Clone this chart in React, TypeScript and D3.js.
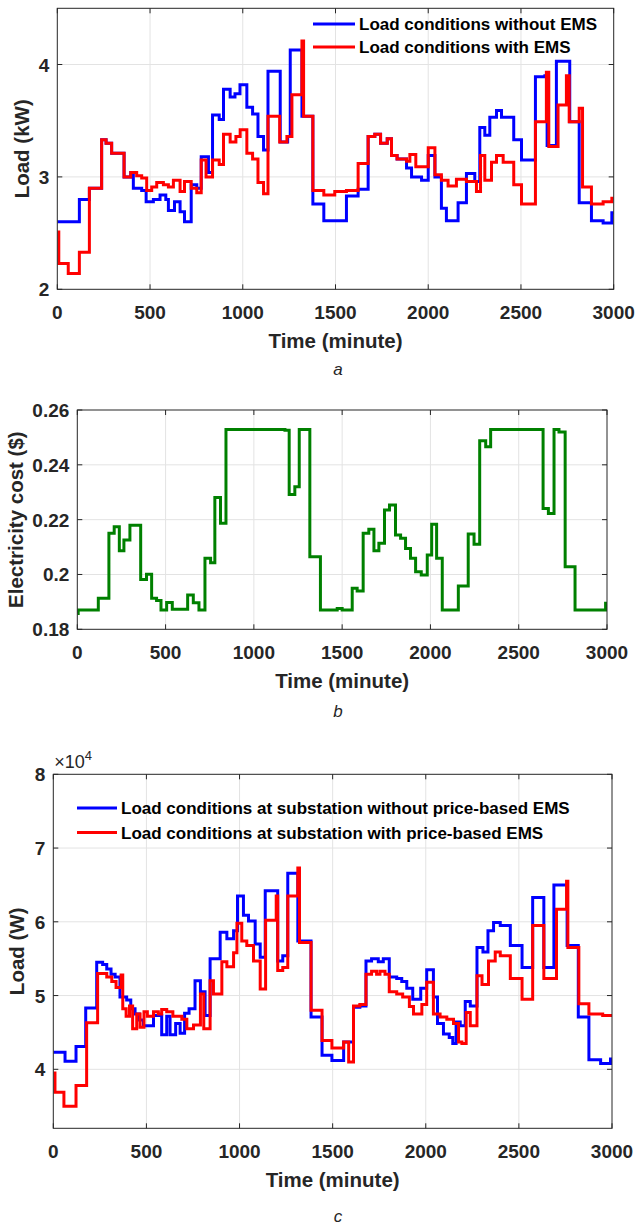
import * as d3 from 'd3';
import React from 'react';

// time axis ticks, shared by all three panels
const timeTicks = [0, 500, 1000, 1500, 2000, 2500, 3000];

// (a) household load, kW
const loadNoEmsT = [0, 119, 173, 239, 263, 293, 360, 396, 410, 455, 479, 518, 554, 585, 599, 632, 662, 686, 722, 752, 776, 815, 837, 873, 896, 932, 958, 985, 1022, 1053, 1082, 1112, 1136, 1202, 1242, 1256, 1319, 1378, 1437, 1559, 1622, 1676, 1712, 1743, 1779, 1802, 1832, 1883, 1910, 1964, 2000, 2036, 2071, 2098, 2161, 2206, 2251, 2278, 2305, 2332, 2368, 2395, 2461, 2503, 2578, 2629, 2641, 2691, 2763, 2814, 2880, 2943, 2990];
const loadNoEmsV = [2.60, 2.80, 2.90, 3.33, 3.30, 3.21, 3.00, 3.04, 2.90, 2.88, 2.78, 2.80, 2.84, 2.80, 2.70, 2.78, 2.69, 2.60, 2.93, 2.90, 3.18, 3.04, 3.55, 3.51, 3.78, 3.71, 3.74, 3.82, 3.62, 3.56, 3.36, 3.24, 3.94, 3.31, 3.36, 4.13, 3.54, 2.76, 2.61, 2.83, 2.89, 3.36, 3.38, 3.30, 3.34, 3.19, 3.16, 3.08, 3.00, 2.97, 3.19, 3.00, 2.72, 2.61, 2.77, 3.03, 2.96, 3.44, 3.37, 3.53, 3.59, 3.53, 3.33, 3.15, 3.89, 3.90, 3.28, 4.03, 3.49, 2.77, 2.61, 2.59, 2.68];
const loadEmsT = [0, 8, 59, 119, 173, 239, 263, 293, 360, 396, 428, 455, 482, 509, 536, 572, 599, 626, 662, 686, 722, 752, 776, 802, 837, 873, 896, 932, 963, 986, 1022, 1053, 1082, 1112, 1136, 1199, 1238, 1265, 1319, 1328, 1378, 1437, 1496, 1559, 1622, 1676, 1712, 1743, 1779, 1802, 1832, 1883, 1901, 1933, 2000, 2036, 2071, 2107, 2152, 2206, 2260, 2282, 2305, 2341, 2368, 2404, 2461, 2503, 2578, 2637, 2650, 2700, 2745, 2760, 2814, 2832, 2880, 2943, 2990];
const loadEmsV = [2.51, 2.23, 2.14, 2.33, 2.90, 3.33, 3.30, 3.21, 3.00, 3.04, 3.01, 2.99, 2.88, 2.91, 2.95, 2.93, 2.91, 2.97, 2.87, 2.96, 2.90, 2.86, 3.15, 3.00, 3.15, 3.11, 3.38, 3.31, 3.36, 3.42, 3.21, 3.16, 2.95, 2.85, 3.54, 3.31, 3.36, 3.73, 4.21, 3.54, 2.88, 2.84, 2.87, 2.88, 3.12, 3.36, 3.38, 3.30, 3.34, 3.19, 3.16, 3.14, 3.20, 3.09, 3.26, 3.02, 2.97, 2.92, 2.98, 2.96, 2.87, 3.19, 2.97, 3.13, 3.19, 3.13, 2.93, 2.76, 3.49, 3.93, 3.27, 3.64, 3.90, 3.49, 3.61, 2.91, 2.76, 2.78, 2.81];

// (b) electricity cost, $
const costT = [0, 5, 119, 179, 209, 238, 264, 298, 359, 392, 421, 449, 474, 506, 538, 625, 657, 689, 723, 755, 779, 811, 842, 1176, 1200, 1232, 1257, 1317, 1377, 1472, 1500, 1557, 1585, 1619, 1651, 1680, 1708, 1740, 1768, 1802, 1831, 1859, 1887, 1916, 1948, 1982, 2007, 2035, 2067, 2158, 2214, 2247, 2279, 2313, 2341, 2638, 2668, 2700, 2728, 2763, 2819, 2992];
const costV = [0.1858, 0.187, 0.1913, 0.215, 0.2174, 0.2087, 0.2126, 0.218, 0.1982, 0.2001, 0.1913, 0.1905, 0.187, 0.1898, 0.1873, 0.1925, 0.1897, 0.187, 0.2059, 0.2043, 0.2281, 0.2187, 0.2529, 0.2526, 0.2292, 0.232, 0.2529, 0.2065, 0.187, 0.1876, 0.187, 0.195, 0.194, 0.215, 0.2165, 0.2087, 0.2114, 0.2235, 0.2253, 0.2144, 0.2132, 0.2095, 0.2059, 0.201, 0.1998, 0.2071, 0.2183, 0.2059, 0.187, 0.1958, 0.2148, 0.211, 0.2488, 0.2466, 0.2529, 0.2241, 0.2222, 0.2529, 0.252, 0.2028, 0.187, 0.1895];

// (c) substation load, x10^4 W
const subNoEmsT = [0, 63, 122, 174, 233, 265, 287, 310, 332, 358, 394, 416, 439, 462, 484, 538, 582, 609, 627, 657, 681, 705, 729, 761, 790, 815, 842, 896, 932, 968, 989, 1021, 1048, 1084, 1111, 1138, 1205, 1232, 1259, 1313, 1384, 1443, 1496, 1559, 1612, 1646, 1679, 1709, 1745, 1772, 1804, 1844, 1871, 1898, 1930, 1973, 2005, 2041, 2063, 2095, 2126, 2145, 2163, 2185, 2212, 2239, 2275, 2307, 2334, 2364, 2400, 2454, 2517, 2574, 2634, 2688, 2759, 2819, 2876, 2939, 2992];
const subNoEmsV = [4.23, 4.11, 4.31, 4.83, 5.45, 5.42, 5.36, 5.29, 5.25, 4.98, 4.94, 4.82, 4.75, 4.67, 4.59, 4.73, 4.47, 4.72, 4.47, 4.62, 4.49, 4.76, 4.82, 5.20, 5.05, 4.73, 5.50, 5.86, 5.77, 5.88, 6.35, 6.09, 6.01, 5.70, 5.52, 6.42, 5.47, 5.54, 6.66, 5.74, 4.71, 4.19, 4.12, 4.37, 4.84, 4.86, 5.47, 5.50, 5.46, 5.50, 5.25, 5.23, 5.19, 5.10, 4.95, 5.10, 5.35, 4.98, 4.62, 4.48, 4.43, 4.35, 4.64, 4.59, 4.92, 4.86, 5.65, 5.59, 5.88, 5.99, 5.95, 5.68, 5.38, 6.33, 5.38, 6.50, 5.68, 4.71, 4.13, 4.08, 4.14];
const subEmsT = [0, 9, 57, 122, 179, 238, 287, 314, 337, 364, 373, 391, 409, 426, 448, 466, 487, 505, 538, 564, 582, 609, 642, 690, 717, 753, 790, 808, 842, 860, 905, 932, 968, 986, 1012, 1039, 1075, 1111, 1140, 1197, 1205, 1232, 1259, 1313, 1322, 1384, 1443, 1496, 1559, 1586, 1612, 1646, 1679, 1709, 1736, 1754, 1781, 1804, 1844, 1876, 1912, 1934, 1979, 2005, 2041, 2077, 2113, 2149, 2176, 2194, 2217, 2239, 2275, 2302, 2337, 2373, 2400, 2454, 2517, 2574, 2634, 2702, 2756, 2763, 2822, 2876, 2950];
const subEmsV = [3.95, 3.69, 3.50, 3.78, 4.63, 5.30, 5.25, 5.19, 5.11, 5.28, 4.82, 4.72, 4.86, 4.55, 4.75, 4.57, 4.78, 4.72, 4.78, 4.75, 4.81, 4.78, 4.72, 4.68, 4.55, 4.60, 5.02, 4.55, 5.20, 5.02, 5.46, 5.39, 5.58, 5.98, 5.74, 5.68, 5.47, 5.09, 6.02, 6.35, 5.34, 5.38, 6.35, 6.73, 5.72, 4.80, 4.39, 4.29, 4.37, 4.10, 4.86, 4.88, 5.29, 5.33, 5.29, 5.33, 5.29, 5.05, 5.02, 4.98, 4.85, 4.75, 4.88, 5.18, 4.75, 4.71, 4.68, 4.62, 4.37, 4.35, 4.77, 4.59, 5.27, 5.15, 5.47, 5.59, 5.54, 5.23, 4.95, 5.95, 5.23, 6.17, 6.55, 5.65, 4.89, 4.75, 4.73];

const FONT = '"Liberation Sans", Arial, sans-serif';
const INK = '#262626';

type Series = { t: number[]; v: number[]; color: string };

function Panel(props: {
  id: string;
  left: number; right: number; top: number; bottom: number;
  yDomain: [number, number];
  yTicks: number[];
  yFmt: (d: number) => string;
  series: Series[];
  yTitle: string;
  yTitleX: number;
  caption: string;
  captionY: number;
  legend?: { labels: string[]; x: number; y: number; len: number; gap: number };
  exponent?: boolean;
}) {
  const { left, right, top, bottom } = props;
  const x = d3.scaleLinear().domain([0, 3000]).range([left, right]);
  const y = d3.scaleLinear().domain(props.yDomain).range([bottom, top]);
  const line = d3.line<[number, number]>()
    .x(d => x(d[0]))
    .y(d => y(d[1]))
    .curve(d3.curveStepAfter);
  const tk = 5;
  const midX = (left + right) / 2;
  const midY = (top + bottom) / 2;
  const lg = props.legend;

  return (
    <g fontFamily={FONT}>
      <defs>
        <clipPath id={props.id}>
          <rect x={left} y={top} width={right - left} height={bottom - top} />
        </clipPath>
      </defs>
      {/* grid */}
      {timeTicks.slice(1, -1).map(t => (
        <line key={'gx' + t} x1={x(t)} x2={x(t)} y1={top} y2={bottom} stroke="#e3e3e3" strokeWidth={1} />
      ))}
      {props.yTicks.filter(v => v > props.yDomain[0] && v < props.yDomain[1]).map(v => (
        <line key={'gy' + v} x1={left} x2={right} y1={y(v)} y2={y(v)} stroke="#e3e3e3" strokeWidth={1} />
      ))}
      {/* data */}
      <g clipPath={`url(#${props.id})`}>
        {props.series.map((s, i) => {
          const pts: [number, number][] = s.t.map((t, j) => [t, s.v[j]]);
          pts.push([3000, s.v[s.v.length - 1]]);
          return <path key={i} d={line(pts) || ''} fill="none" stroke={s.color} strokeWidth={3} />;
        })}
      </g>
      {/* box and ticks */}
      <rect x={left} y={top} width={right - left} height={bottom - top} fill="none" stroke={INK} strokeWidth={1} />
      {timeTicks.map(t => (
        <g key={'tx' + t}>
          <line x1={x(t)} x2={x(t)} y1={bottom} y2={bottom - tk} stroke={INK} />
          <line x1={x(t)} x2={x(t)} y1={top} y2={top + tk} stroke={INK} />
          <text x={x(t)} y={bottom + 30} textAnchor="middle" fontSize={19} fontWeight="bold" fill={INK}>{t}</text>
        </g>
      ))}
      {props.yTicks.map(v => (
        <g key={'ty' + v}>
          <line x1={left} x2={left + tk} y1={y(v)} y2={y(v)} stroke={INK} />
          <line x1={right} x2={right - tk} y1={y(v)} y2={y(v)} stroke={INK} />
          <text x={left - 8} y={y(v) + 7} textAnchor="end" fontSize={19} fontWeight="bold" fill={INK}>{props.yFmt(v)}</text>
        </g>
      ))}
      {props.exponent && (
        <text x={left + 1} y={top - 6} fontSize={18} fill={INK}>
          ×10<tspan dy={-8} fontSize={13}>4</tspan>
        </text>
      )}
      {/* titles */}
      <text x={midX} y={bottom + 59} textAnchor="middle" fontSize={20.5} fontWeight="bold" fill={INK}>Time (minute)</text>
      <text transform={`translate(${props.yTitleX},${midY}) rotate(-90)`} textAnchor="middle" fontSize={20.5} fontWeight="bold" fill={INK}>{props.yTitle}</text>
      <text x={338} y={props.captionY} textAnchor="middle" fontSize={17} fontStyle="italic" fill={INK}>{props.caption}</text>
      {/* legend */}
      {lg && lg.labels.map((lab, i) => (
        <g key={'lg' + i}>
          <line x1={lg.x} x2={lg.x + lg.len} y1={lg.y + i * lg.gap} y2={lg.y + i * lg.gap} stroke={props.series[i].color} strokeWidth={3} />
          <text x={lg.x + lg.len + 4} y={lg.y + i * lg.gap + 6} fontSize={17} fontWeight="bold" fill="#000">{lab}</text>
        </g>
      ))}
    </g>
  );
}

export default function App() {
  const trim = (d: number) => String(+d.toFixed(2));
  return (
    <svg width={635} height={1225} style={{ position: 'absolute', left: 0, top: 0, background: '#fff' }}>
      <rect width={635} height={1225} fill="#fff" />
      <Panel
        id="clipA"
        left={57.3} right={613.7} top={8.3} bottom={289.3}
        yDomain={[2, 4.5]} yTicks={[2, 3, 4]} yFmt={trim}
        series={[{ t: loadNoEmsT, v: loadNoEmsV, color: '#0000ff' }, { t: loadEmsT, v: loadEmsV, color: '#ff0000' }]}
        yTitle="Load (kW)" yTitleX={29} caption="a" captionY={375}
        legend={{ labels: ['Load conditions without EMS', 'Load conditions with EMS'], x: 313, y: 24, len: 42, gap: 23 }}
      />
      <Panel
        id="clipB"
        left={77.3} right={607} top={410} bottom={629.3}
        yDomain={[0.18, 0.26]} yTicks={[0.18, 0.2, 0.22, 0.24, 0.26]} yFmt={trim}
        series={[{ t: costT, v: costV, color: '#008000' }]}
        yTitle="Electricity cost ($)" yTitleX={23} caption="b" captionY={717}
      />
      <Panel
        id="clipC"
        left={53.3} right={612} top={774.3} bottom={1128.3}
        yDomain={[3.2, 8]} yTicks={[4, 5, 6, 7, 8]} yFmt={trim}
        series={[{ t: subNoEmsT, v: subNoEmsV, color: '#0000ff' }, { t: subEmsT, v: subEmsV, color: '#ff0000' }]}
        yTitle="Load (W)" yTitleX={24} caption="c" captionY={1222}
        legend={{ labels: ['Load conditions at substation without price-based EMS', 'Load conditions at substation with price-based EMS'], x: 77, y: 808, len: 40, gap: 24.5 }}
        exponent
      />
    </svg>
  );
}
